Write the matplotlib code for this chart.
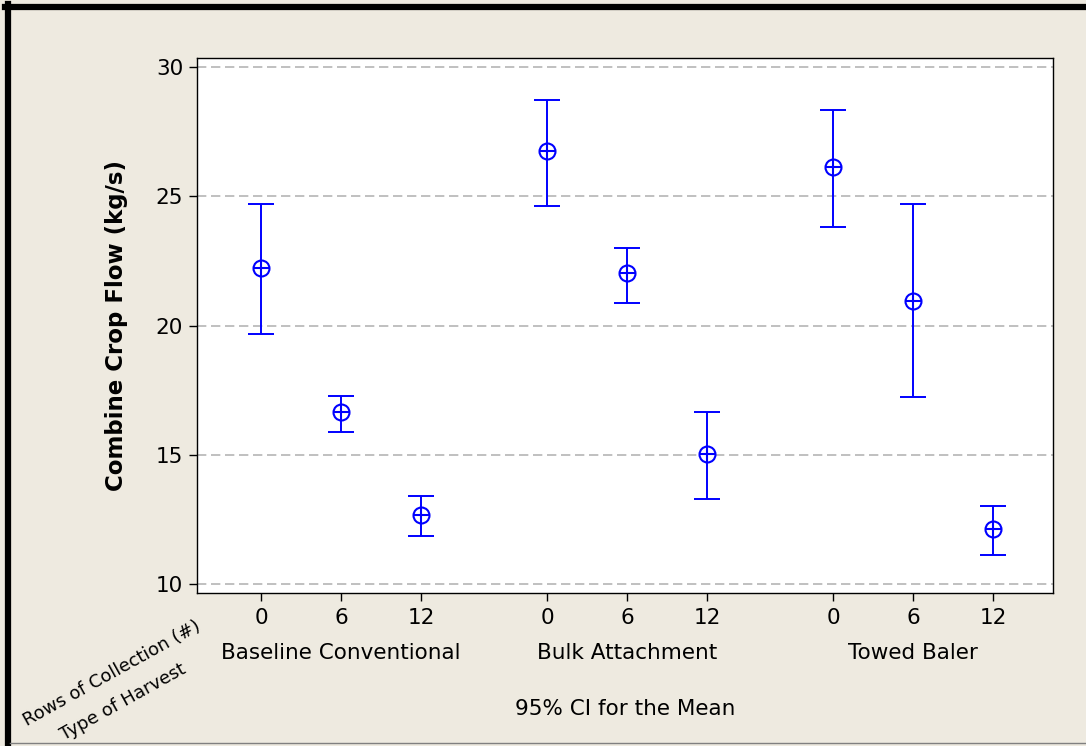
import numpy as np
import matplotlib.pyplot as plt

harvest_types = ["Baseline Conventional", "Bulk Attachment", "Towed Baler"]
rows_labels = ["0", "6", "12"]

# means and 95% CI bounds, ordered by harvest type then rows
means = [22.22, 16.65, 12.67, 26.76, 22.02, 15.03, 26.14, 20.96, 12.13]
ci_upper = [24.70, 17.27, 13.40, 28.72, 23.01, 16.65, 28.35, 24.71, 13.02]
ci_lower = [19.67, 15.88, 11.86, 24.64, 20.86, 13.29, 23.82, 17.22, 11.12]

blue = "#0000FF"
bg = "#EEEAE0"

fig = plt.figure(figsize=(10.86, 7.46), dpi=100, facecolor=bg)
ax = fig.add_axes([197 / 1086, 1 - 593 / 746, (1053 - 197) / 1086, (593 - 58) / 746])
ax.set_facecolor("white")

group_gap = 1.575
pos = []
for g in range(len(harvest_types)):
    for r in range(len(rows_labels)):
        pos.append(g * (2 + group_gap) + r)
pos = np.array(pos)
means = np.array(means)
yerr = np.array([means - np.array(ci_lower), np.array(ci_upper) - means])

ax.errorbar(pos, means, yerr=yerr, fmt="none", ecolor=blue, elinewidth=1.4,
            capsize=9.5, capthick=1.4, zorder=3)
ax.plot(pos, means, "o", ms=11.5, mfc="white", mec=blue, mew=1.5, ls="none", zorder=4)
ax.plot(pos, means, "+", ms=11.5, mec=blue, mew=1.5, ls="none", zorder=5)

ax.set_ylim(9.65, 30.35)
ax.set_xlim(-0.8, 9.9)
ax.set_yticks([10, 15, 20, 25, 30])
for y in [10, 15, 20, 25, 30]:
    ax.axhline(y, color="#C0C0C0", lw=1.4, ls=(0, (4.8, 2.4)), zorder=1)

ax.set_xticks(pos)
ax.set_xticklabels(rows_labels * len(harvest_types))
ax.tick_params(axis="both", direction="out", length=6, width=1, labelsize=15.5,
               colors="black", pad=4)
ax.tick_params(axis="x", pad=5)
for s in ax.spines.values():
    s.set_linewidth(1.0)
    s.set_color("black")

ax.set_ylabel("Combine Crop Flow (kg/s)", fontsize=16.5, fontweight="bold", labelpad=20)

# group labels under the ticks
for g, name in enumerate(harvest_types):
    xc = g * (2 + group_gap) + 1
    ax.text(xc, -0.112, name, transform=ax.get_xaxis_transform(), ha="center",
            va="center", fontsize=15.5)

fig.text(625 / 1086, 1 - 709 / 746, "95% CI for the Mean", ha="center", va="center", fontsize=15.5)

fig.text(195 / 1086, 1 - 617 / 746, "Rows of Collection (#)", ha="right", va="top",
         rotation=29, rotation_mode="anchor", fontsize=13)
fig.text(180 / 1086, 1 - 660 / 746, "Type of Harvest", ha="right", va="top",
         rotation=29, rotation_mode="anchor", fontsize=13)

# outer frame
fig.add_artist(plt.Line2D([8 / 1086, 8 / 1086], [0, 1 - 4 / 746], transform=fig.transFigure,
                          color="black", lw=4.5))
fig.add_artist(plt.Line2D([5 / 1086, 1], [1 - 7 / 746, 1 - 7 / 746], transform=fig.transFigure,
                          color="black", lw=4.5))
fig.add_artist(plt.Line2D([10 / 1086, 1], [1 - 743 / 746, 1 - 743 / 746], transform=fig.transFigure,
                          color="#808080", lw=1.0))

fig.savefig("out.png", dpi=100, facecolor=bg)
